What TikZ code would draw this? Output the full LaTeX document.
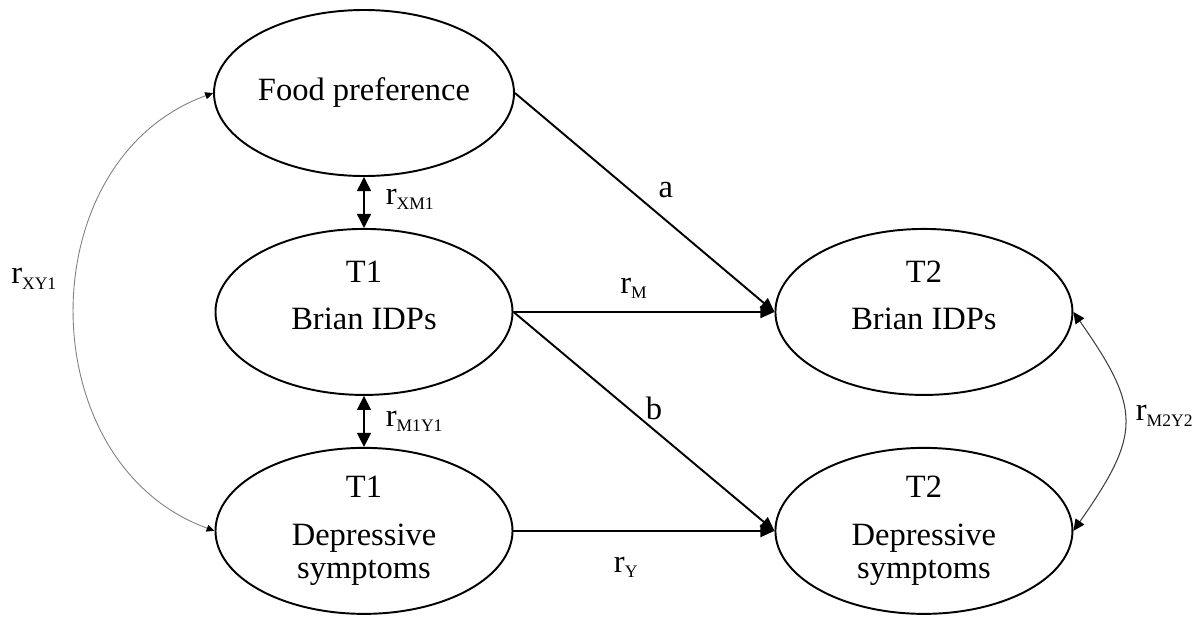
\documentclass[tikz,border=0pt]{standalone}
\usepackage{fontspec}
\setmainfont{Liberation Serif}
\usepackage{tikz}
\usetikzlibrary{arrows.meta,positioning,shapes.geometric}
\newcommand{\lsub}[1]{\raisebox{-3pt}{\fontsize{10}{12}\selectfont #1}}

\begin{document}
\begin{tikzpicture}[
  node distance=1.02cm and 5.22cm,
  latent/.style={draw, ellipse, line width=1.1pt, minimum width=5.94cm, minimum height=3.32cm, inner sep=0pt, align=center, font=\fontsize{18.5}{19}\selectfont},
  lbl/.style={inner sep=0pt, font=\fontsize{18.5}{19}\selectfont},
  regr/.style={-{Triangle[length=8pt, width=7pt]}, line width=1.1pt},
  thinregr/.style={-{Triangle[length=8pt, width=7pt]}, line width=0.75pt},
  cov/.style={{Triangle[length=8pt, width=8pt]}-{Triangle[length=8pt, width=8pt]}, line width=0.8pt},
  longcov/.style={{Triangle[length=4.5pt, width=4pt, color=black]}-{Triangle[length=4.5pt, width=4pt, color=black]}, draw=black!50, line width=0.5pt},
  sidecov/.style={{Triangle[length=6.5pt, width=6pt, color=black]}-{Triangle[length=6.5pt, width=6pt, color=black]}, draw=black!75, line width=0.6pt}
]
\useasboundingbox (0,0) rectangle (24.02,-12.46);

\node[latent] (food) at (7.28,-1.86) {Food preference};
\node[latent, below=of food] (brainA) {T1\\[8pt]Brian IDPs\\\mbox{}};
\node[latent, below=of brainA] (depA) {T1\\[8pt]Depressive\\symptoms};
\node[latent, right=of brainA] (brainB) {T2\\[8pt]Brian IDPs\\\mbox{}};
\node[latent, right=of depA] (depB) {T2\\[8pt]Depressive\\symptoms};

\draw[regr] (food.east) -- node[lbl, xshift=12pt, yshift=6.8pt] {a} (brainB.west);
\draw[thinregr] (brainA.east) -- node[lbl, pos=0.46, above=7.2pt] {r\lsub{M}} (brainB.west);
\draw[regr] (brainA.east) -- node[lbl, xshift=5.7pt, yshift=7.7pt] {b} (depB.west);
\draw[regr] (depA.east) -- node[lbl, pos=0.43, below=14.3pt] {r\lsub{Y}} (depB.west);

\draw[cov] (food) -- node[lbl, pos=0.44, right=12pt] {r\lsub{XM1}} (brainA);
\draw[cov] (brainA) -- node[lbl, pos=0.5, right=12pt] {r\lsub{M1Y1}} (depA);
\draw[longcov] (food.west) to[out=200, in=160, looseness=1.15] node[lbl, pos=0.44, left=11.4pt] {r\lsub{XY1}} (depA.west);
\draw[sidecov] (brainB.east) to[out=-55, in=55, looseness=1.39] node[lbl, pos=0.47, right=6.3pt] {r\lsub{M2Y2}} (depB.east);
\end{tikzpicture}
\end{document}
